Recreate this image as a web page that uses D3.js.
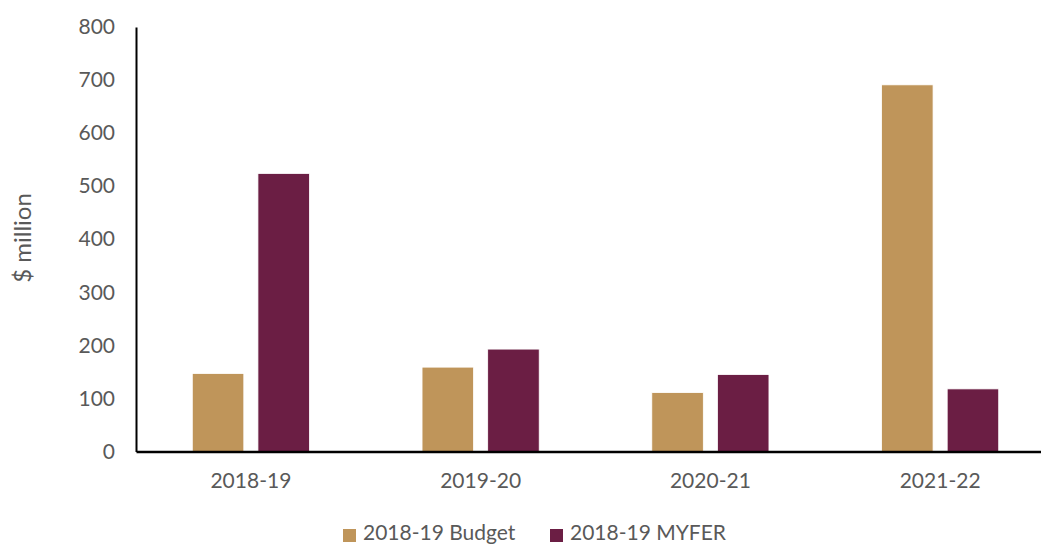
<!DOCTYPE html>
<html>
<head>
<meta charset="utf-8">
<script src="https://cdn.jsdelivr.net/npm/d3@7"></script>
<style>
  body { margin: 0; background: #fff; }
  text { font-family: Lato, "Open Sans", sans-serif; fill: #595959; }
</style>
</head>
<body>
<svg id="chart"></svg>
<script>
const years = ['2018-19', '2019-20', '2020-21', '2021-22'];
const seriesNames = ['2018-19 Budget', '2018-19 MYFER'];
const budget = [147, 159, 111, 691];
const myfer = [524, 193, 145, 118];
const yTicks = [0, 100, 200, 300, 400, 500, 600, 700, 800];

const width = 1041, height = 545;
const colors = ['#BF955A', '#6B1E44'];

const svg = d3.select('#chart')
  .attr('width', width)
  .attr('height', height);

const x0 = d3.scaleBand()
  .domain(years)
  .range([136, 1055])
  .paddingInner(0.49)
  .paddingOuter(0.245);

const x1 = d3.scaleBand()
  .domain(seriesNames)
  .range([0, x0.bandwidth()])
  .paddingInner(0.215);

const y = d3.scaleLinear()
  .domain([0, 800])
  .range([451.5, 27]);

const color = d3.scaleOrdinal().domain(seriesNames).range(colors);

const rows = years.map((yr, i) => ({
  year: yr,
  values: [
    {name: seriesNames[0], value: budget[i]},
    {name: seriesNames[1], value: myfer[i]}
  ]
}));

// bars
const groups = svg.append('g')
  .selectAll('g')
  .data(rows)
  .enter()
  .append('g')
  .attr('transform', d => 'translate(' + x0(d.year) + ',0)');

groups.selectAll('rect')
  .data(d => d.values)
  .enter()
  .append('rect')
  .attr('x', d => x1(d.name))
  .attr('y', d => y(d.value))
  .attr('width', x1.bandwidth())
  .attr('height', d => y(0) - y(d.value))
  .attr('fill', d => color(d.name))
  .attr('stroke', '#fff')
  .attr('stroke-width', 0.8);

// y axis
const yAxis = svg.append('g')
  .attr('transform', 'translate(136,0)')
  .call(d3.axisLeft(y).tickValues(yTicks).tickSize(0).tickPadding(21));
yAxis.select('.domain').attr('stroke', '#000').attr('stroke-width', 2);
yAxis.selectAll('text').style('font-size', '21px').attr('fill', '#595959');

// x axis
const xAxis = svg.append('g')
  .attr('transform', 'translate(0,' + y(0) + ')')
  .call(d3.axisBottom(x0).tickSize(0).tickPadding(22));
xAxis.select('.domain').attr('stroke', '#000').attr('stroke-width', 2.5);
xAxis.selectAll('text').style('font-size', '21px').attr('fill', '#595959');

// y title
svg.append('text')
  .attr('transform', 'translate(25,238) rotate(-90)')
  .attr('text-anchor', 'middle')
  .attr('dominant-baseline', 'middle')
  .style('font-size', '24px')
  .text('$ million');

// legend (sits at the very bottom edge, as in the source)
const legendX = [343, 550];
const legend = svg.append('g')
  .selectAll('g')
  .data(seriesNames)
  .enter()
  .append('g')
  .attr('transform', (d, i) => 'translate(' + legendX[i] + ',529)');

legend.append('rect')
  .attr('width', 13)
  .attr('height', 13)
  .attr('fill', d => color(d));

legend.append('text')
  .attr('x', 20)
  .attr('y', 6)
  .attr('dominant-baseline', 'middle')
  .style('font-size', '21px')
  .text(d => d);
</script>
</body>
</html>
